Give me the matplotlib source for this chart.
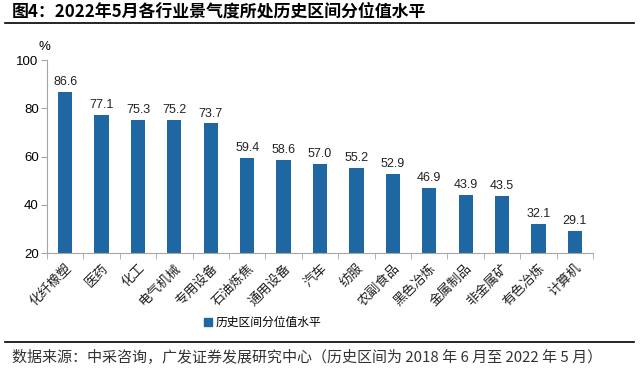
import numpy as np
import matplotlib.pyplot as plt
from matplotlib.lines import Line2D
from matplotlib.patches import Patch

plt.rcParams['font.family'] = ['Liberation Sans', 'Noto Sans CJK SC', 'DejaVu Sans']

industries = ['化纤橡塑', '医药', '化工', '电气机械', '专用设备', '石油炼焦', '通用设备', '汽车',
              '纺服', '农副食品', '黑色冶炼', '金属制品', '非金属矿', '有色冶炼', '计算机']
percentile = [86.6, 77.1, 75.3, 75.2, 73.7, 59.4, 58.6, 57.0, 55.2, 52.9, 46.9, 43.9, 43.5, 32.1, 29.1]
yticks = [20, 40, 60, 80, 100]

bar_color = '#1F67A3'
axis_color = '#A6A6A6'

fig = plt.figure(figsize=(6.4, 3.7), dpi=100)
ax = fig.add_axes([0.0734, 0.3162, 0.8532, 0.5216])

x = np.arange(len(industries))
ax.bar(x, np.array(percentile) - 20, bottom=20, width=0.39, color=bar_color, zorder=2)
for xi, v in zip(x, percentile):
    ax.text(xi, v + 1.6, f'{v:.1f}', ha='center', va='bottom', fontsize=9, color='#222222')

ax.set_xlim(-0.5, len(industries) - 0.5)
ax.set_ylim(20, 100)
ax.set_yticks(yticks)
ax.set_yticklabels([str(t) for t in yticks], fontsize=9.5)
ax.set_xticks(x)
ax.set_xticklabels(industries, rotation=45, ha='right', rotation_mode='anchor',
                   fontsize=9.5, family=['Noto Sans CJK SC', 'DejaVu Sans'], color='#222222')
ax.set_xticks(np.arange(-0.5, len(industries)), minor=True)
ax.tick_params(axis='x', which='major', length=0, pad=6)
ax.tick_params(axis='x', which='minor', length=4, color=axis_color, direction='out')
ax.tick_params(axis='y', length=4, color=axis_color, direction='out', pad=2)

for side in ['top', 'right']:
    ax.spines[side].set_visible(False)
ax.spines['left'].set_color(axis_color)
ax.spines['bottom'].set_color(axis_color)

ax.text(-0.005, 1.035, '%', transform=ax.transAxes, ha='center', va='bottom', fontsize=9.5)

fig.legend(handles=[Patch(color=bar_color, label='历史区间分位值水平')],
           loc='center', bbox_to_anchor=(0.41, 0.128), frameon=False,
           prop={'family': ['Noto Sans CJK SC'], 'size': 8.5},
           handlelength=0.7, handleheight=0.7, handletextpad=0.3)

fig.text(0.018, 0.968, '图4：2022年5月各行业景气度所处历史区间分位值水平', ha='left', va='center',
         fontsize=12.2, fontweight='bold', family=['Noto Sans CJK SC', 'DejaVu Sans'])
fig.add_artist(Line2D([0.008, 0.99], [0.937, 0.937], color='black', lw=1.2))
fig.add_artist(Line2D([0.008, 0.99], [0.076, 0.076], color='black', lw=1.2))
fig.text(0.018, 0.036, '数据来源：中采咨询，广发证券发展研究中心（历史区间为 2018 年 6 月至 2022 年 5 月）',
         ha='left', va='center', fontsize=10.8, color='#333333',
         family=['Noto Sans CJK SC', 'DejaVu Sans'])

fig.savefig('out.png', dpi=100)
